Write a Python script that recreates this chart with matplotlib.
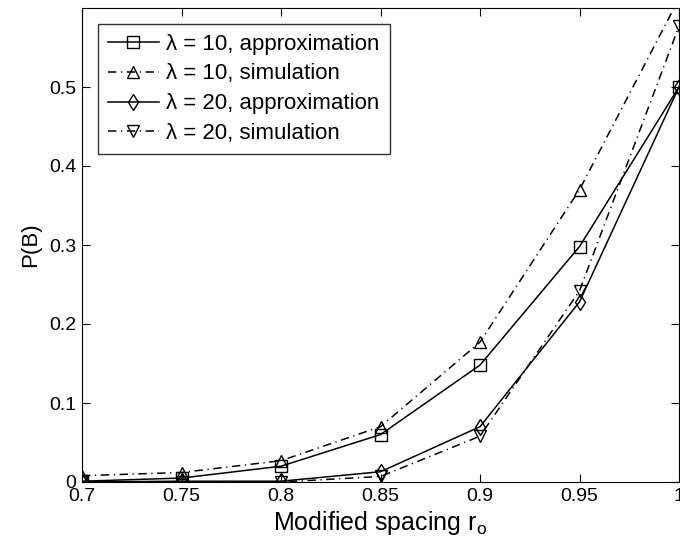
import numpy as np
import matplotlib
matplotlib.use('Agg')
import matplotlib.pyplot as plt

plt.rcParams['font.family'] = ['Liberation Sans', 'DejaVu Sans']
plt.rcParams['mathtext.fontset'] = 'custom'
plt.rcParams['mathtext.rm'] = 'Liberation Sans'

# Data
r_o = [0.70, 0.75, 0.80, 0.85, 0.90, 0.95, 1.00]
approx_10 = [0.001, 0.005, 0.020, 0.060, 0.148, 0.298, 0.500]
sim_10 = [0.008, 0.012, 0.027, 0.070, 0.177, 0.370, 0.612]
approx_20 = [0.000, 0.001, 0.001, 0.013, 0.070, 0.228, 0.500]
sim_20 = [0.000, 0.000, 0.000, 0.007, 0.058, 0.242, 0.577]

fig = plt.figure(figsize=(6.8, 5.47), dpi=100)
ax = fig.add_axes([82/680, 65/547, 597/680, 474/547])

mk = dict(color='k', markerfacecolor='none', markeredgecolor='k',
          markersize=8, markeredgewidth=1.0, linewidth=1.1)
dd = (5.5, 3, 0.8, 3)
ax.plot(r_o, approx_10, '-s', label='λ = 10, approximation', **mk)
ax.plot(r_o, sim_10, '-.^', dashes=dd, label='λ = 10, simulation', **mk)
ax.plot(r_o, approx_20, '-d', label='λ = 20, approximation', **mk)
ax.plot(r_o, sim_20, '-.v', dashes=dd, label='λ = 20, simulation', **mk)

ax.set_xlim(0.7, 1.0)
ax.set_ylim(0, 0.6)
ax.set_xticks([0.7, 0.75, 0.8, 0.85, 0.9, 0.95, 1.0])
ax.set_xticklabels(['0.7', '0.75', '0.8', '0.85', '0.9', '0.95', '1'])
ax.set_yticks([0, 0.1, 0.2, 0.3, 0.4, 0.5])
ax.set_yticklabels(['0', '0.1', '0.2', '0.3', '0.4', '0.5'])
ax.tick_params(direction='in', top=True, right=True, labelsize=14, length=6, pad=4)

ax.set_xlabel(r'Modified spacing r$_{\mathregular{o}}$', fontsize=18, labelpad=3)
ax.set_ylabel('P(B)', fontsize=16, labelpad=6)

leg = ax.legend(loc='upper left', fontsize=16, frameon=True, fancybox=False,
                edgecolor='k', handlelength=2.3, borderpad=0.45, labelspacing=0.4,
                handletextpad=0.35, borderaxespad=0.7)
leg.get_frame().set_linewidth(1.0)

plt.savefig('out.png', dpi=100)
